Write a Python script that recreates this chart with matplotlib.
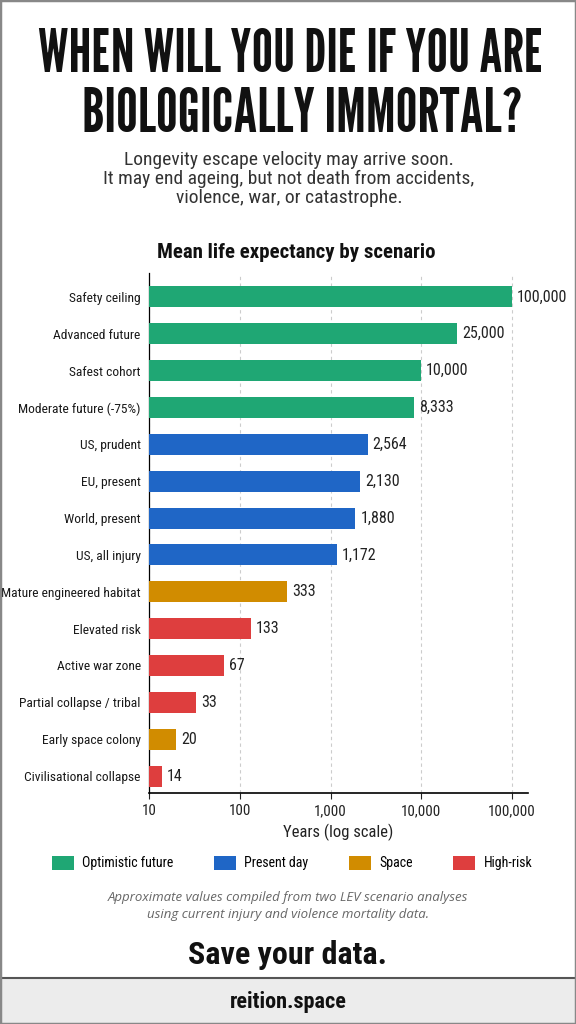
import matplotlib.pyplot as plt
from matplotlib.patches import Patch, Rectangle
from matplotlib.ticker import FuncFormatter, FixedLocator

scenarios = ["Safety ceiling", "Advanced future", "Safest cohort", "Moderate future (-75%)",
             "US, prudent", "EU, present", "World, present", "US, all injury",
             "Mature engineered habitat", "Elevated risk", "Active war zone",
             "Partial collapse / tribal", "Early space colony", "Civilisational collapse"]
years = [100000, 25000, 10000, 8333, 2564, 2130, 1880, 1172, 333, 133, 67, 33, 20, 14]
groups = ["Optimistic future"] * 4 + ["Present day"] * 4 + ["Space", "High-risk", "High-risk",
          "High-risk", "Space", "High-risk"]
group_names = ["Optimistic future", "Present day", "Space", "High-risk"]
group_colors = {"Optimistic future": "#1fa774", "Present day": "#1f66c6",
                "Space": "#d18c00", "High-risk": "#de3e3e"}
x_ticks = [10, 100, 1000, 10000, 100000]

HEAD = ["League Gothic", "Anton", "DejaVu Sans"]
BODY = ["Roboto Condensed", "Roboto", "DejaVu Sans"]
NOTE = ["Open Sans", "DejaVu Sans"]
plt.rcParams["font.family"] = BODY

W, H = 576, 1024
fig = plt.figure(figsize=(W / 100, H / 100), dpi=100)


def fy(px):
    return 1 - px / H


def fx(px):
    return px / W


# title block
fig.text(fx(291), fy(56), "WHEN WILL YOU DIE IF YOU ARE", ha="center", va="center",
         fontsize=43, family=HEAD, color="#111111")
fig.text(fx(302), fy(116), "BIOLOGICALLY IMMORTAL?", ha="center", va="center",
         fontsize=44, family=HEAD, color="#111111")
fig.text(fx(289), fy(179), "Longevity escape velocity may arrive soon.\n"
         "It may end ageing, but not death from accidents,\nviolence, war, or catastrophe.",
         ha="center", va="center", fontsize=14, color="#333333", linespacing=1.08)
fig.text(fx(296), fy(252), "Mean life expectancy by scenario", ha="center", va="center",
         fontsize=15, fontweight="bold", color="#111111")

ax = fig.add_axes([fx(149), fy(793), fx(528) - fx(149), (793 - 273) / H])
ypos = list(range(len(scenarios)))
colors = [group_colors[g] for g in groups]
ax.barh(ypos, years, height=0.57, color=colors, left=0, zorder=3)
ax.set_xscale("log")
ax.set_xlim(10, 150000)
ax.set_ylim(len(scenarios) - 1 + 0.46, -0.65)
ax.set_yticks(ypos)
ax.set_yticklabels(scenarios, fontsize=9.7, color="#1a1a1a")
ax.tick_params(axis="y", length=0, pad=6)
ax.xaxis.set_major_locator(FixedLocator(x_ticks))
ax.xaxis.set_minor_locator(FixedLocator([]))
ax.xaxis.set_major_formatter(FuncFormatter(lambda v, p: f"{int(v):,}"))
ax.tick_params(axis="x", labelsize=10.8, colors="#222222", length=4, width=0.8, pad=4)
ax.grid(axis="x", linestyle=(0, (3, 3)), color="#cccccc", linewidth=0.8, zorder=0)
for s in ["top", "right"]:
    ax.spines[s].set_visible(False)
ax.spines["left"].set_linewidth(0.9)
ax.spines["bottom"].set_linewidth(1.2)
ax.set_xlabel("Years (log scale)", fontsize=12, color="#222222", labelpad=4)

for y, v in zip(ypos, years):
    ax.annotate(f"{v:,}", (v, y), xytext=(3.5, 0), textcoords="offset points",
                ha="left", va="center", fontsize=11.5, color="#222222")

handles = [Patch(facecolor=group_colors[g], label=g) for g in group_names]
fig.legend(handles=handles, loc="center", bbox_to_anchor=(fx(292), fy(863)), ncol=4,
           frameon=False, fontsize=10, handlelength=1.6, handleheight=1.2,
           handletextpad=0.6, columnspacing=2.9)

fig.text(fx(288), fy(906), "Approximate values compiled from two LEV scenario analyses\n"
         "using current injury and violence mortality data.", ha="center", va="center",
         fontsize=9.5, color="#666666", style="italic", family=NOTE, linespacing=1.45)
fig.text(fx(288), fy(955), "Save your data.", ha="center", va="center",
         fontsize=23, fontweight="bold", color="#111111")

# footer band and frame
fig.patches.append(Rectangle((0, 0), 1, 46 / H, transform=fig.transFigure,
                             facecolor="#ececec", edgecolor="none", zorder=0))
fig.lines.append(plt.Line2D([0, 1], [46 / H, 46 / H], transform=fig.transFigure,
                            color="#555555", linewidth=1.5))
fig.text(fx(288), fy(1002), "reition.space", ha="center", va="center",
         fontsize=16, fontweight="bold", color="#111111")
fig.patches.append(Rectangle((0, 0), 1, 1, transform=fig.transFigure, facecolor="none",
                             edgecolor="#888888", linewidth=2.5, zorder=10))

fig.savefig("out.png", dpi=100)
